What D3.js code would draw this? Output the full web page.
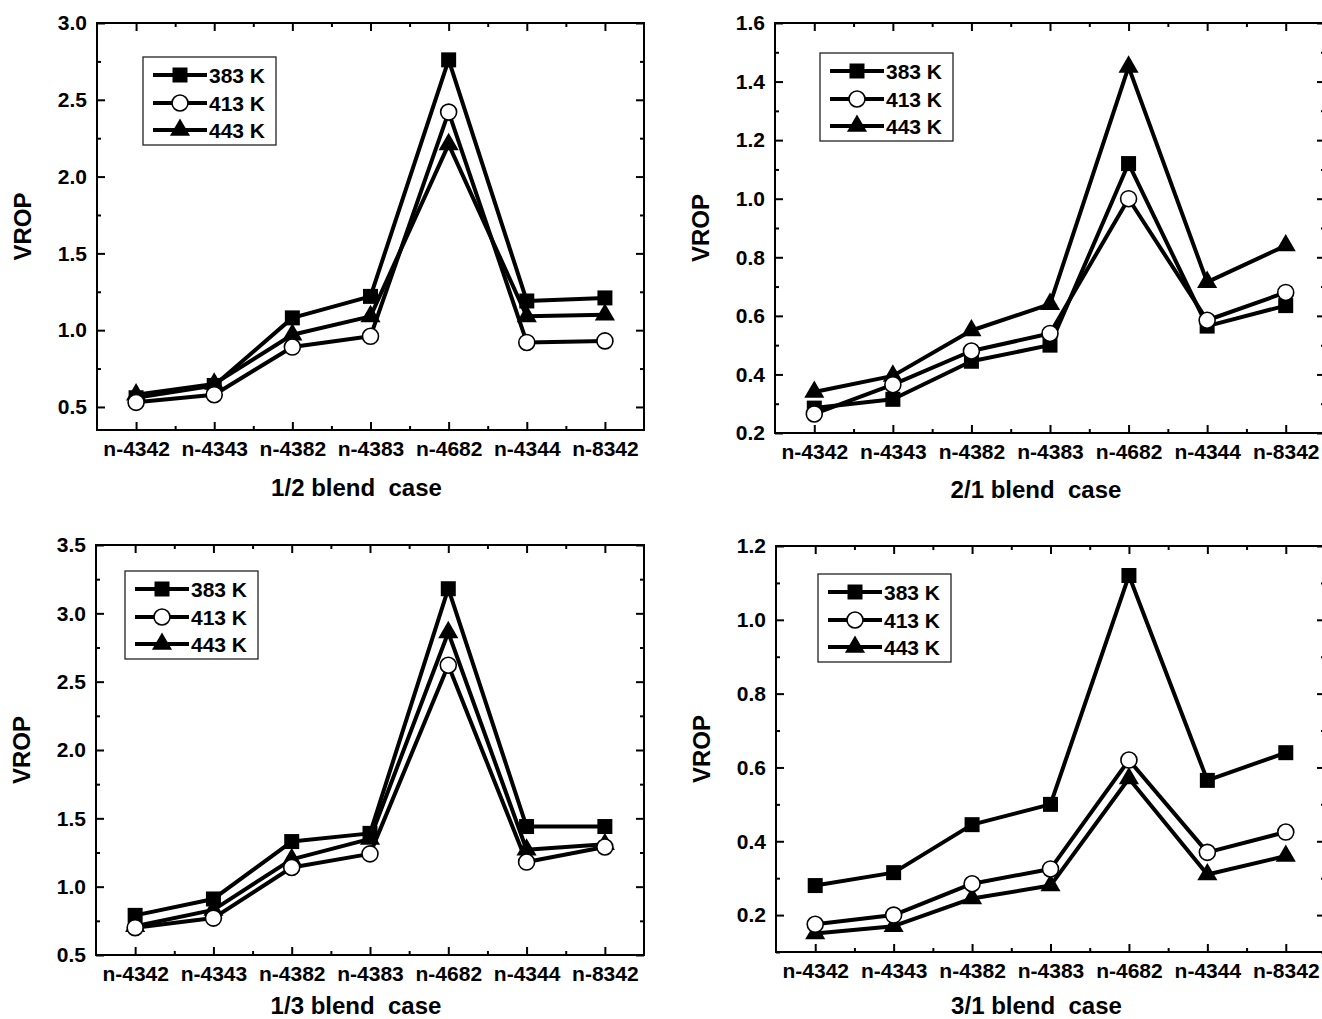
<!DOCTYPE html>
<html>
<head>
<meta charset="utf-8">
<script src="https://cdn.jsdelivr.net/npm/d3@7"></script>
<style>
  body { margin: 0; background: #fff; }
  text { font-family: "Liberation Sans", Arial, sans-serif; font-weight: bold; fill: #000; }
</style>
</head>
<body>
<script>
// categories and legend
const categories = ['n-4342', 'n-4343', 'n-4382', 'n-4383', 'n-4682', 'n-4344', 'n-8342'];
const temps = ['383 K', '413 K', '443 K'];

// 1/2 blend case
const blend12_383 = [0.56, 0.64, 1.08, 1.22, 2.76, 1.19, 1.21];
const blend12_413 = [0.53, 0.58, 0.89, 0.96, 2.42, 0.92, 0.93];
const blend12_443 = [0.58, 0.65, 0.97, 1.09, 2.21, 1.09, 1.10];

// 2/1 blend case
const blend21_383 = [0.285, 0.315, 0.445, 0.50, 1.12, 0.565, 0.635];
const blend21_413 = [0.265, 0.365, 0.48, 0.54, 1.0, 0.585, 0.68];
const blend21_443 = [0.34, 0.395, 0.55, 0.64, 1.45, 0.715, 0.84];

// 1/3 blend case
const blend13_383 = [0.79, 0.91, 1.33, 1.39, 3.18, 1.44, 1.44];
const blend13_413 = [0.70, 0.77, 1.14, 1.24, 2.62, 1.18, 1.29];
const blend13_443 = [0.71, 0.83, 1.20, 1.35, 2.86, 1.27, 1.31];

// 3/1 blend case
const blend31_383 = [0.28, 0.315, 0.445, 0.50, 1.12, 0.565, 0.64];
const blend31_413 = [0.175, 0.20, 0.285, 0.325, 0.62, 0.37, 0.425];
const blend31_443 = [0.15, 0.17, 0.245, 0.28, 0.57, 0.31, 0.36];

// y tick labels
const ticks12 = [0.5, 1.0, 1.5, 2.0, 2.5, 3.0];
const ticks21 = [0.2, 0.4, 0.6, 0.8, 1.0, 1.2, 1.4, 1.6];
const ticks13 = [0.5, 1.0, 1.5, 2.0, 2.5, 3.0, 3.5];
const ticks31 = [0.2, 0.4, 0.6, 0.8, 1.0, 1.2];

const panels = [
  { title: '1/2 blend  case', series: [blend12_383, blend12_413, blend12_443], yDomain: [0.35, 3.0], yTicks: ticks12, minorStep: 0.25,
    left: 97, right: 644, top: 23, bottom: 430, legX: 143, legY: 57, titleY: 496 },
  { title: '2/1 blend  case', series: [blend21_383, blend21_413, blend21_443], yDomain: [0.2, 1.6], yTicks: ticks21, minorStep: 0.1,
    left: 775, right: 1325, top: 23, bottom: 433, legX: 820, legY: 53, titleY: 498 },
  { title: '1/3 blend  case', series: [blend13_383, blend13_413, blend13_443], yDomain: [0.5, 3.5], yTicks: ticks13, minorStep: 0.25,
    left: 96, right: 644, top: 545, bottom: 955, legX: 125, legY: 571, titleY: 1014 },
  { title: '3/1 blend  case', series: [blend31_383, blend31_413, blend31_443], yDomain: [0.1, 1.2], yTicks: ticks31, minorStep: 0.1,
    left: 776, right: 1325, top: 546, bottom: 952, legX: 818, legY: 574, titleY: 1014 }
];

const svg = d3.select('body').append('svg').attr('width', 1322).attr('height', 1019);

const markerPath = (i) => {
  if (i === 0) return d3.symbol(d3.symbolSquare, 225)();
  if (i === 2) return d3.symbol(d3.symbolTriangle, 175)();
  return null;
};

const drawMarker = (sel, i) => {
  if (i === 1) {
    sel.append('circle').attr('r', 8).attr('fill', '#fff').attr('stroke', '#000').attr('stroke-width', 1.6);
  } else {
    sel.append('path').attr('d', markerPath(i)).attr('fill', '#000');
  }
};

panels.forEach((p) => {
  const g = svg.append('g');
  const x = d3.scaleLinear().domain([0.5, 7.5]).range([p.left, p.right]);
  const y = d3.scaleLinear().domain(p.yDomain).range([p.bottom, p.top]);

  const xMinor = d3.range(1.5, 7, 1);
  const yMinor = d3.range(Math.ceil(p.yDomain[0] / p.minorStep - 1e-6), Math.floor(p.yDomain[1] / p.minorStep + 1e-6) + 1)
    .map((k) => k * p.minorStep)
    .filter((v) => !p.yTicks.some((t) => Math.abs(t - v) < 1e-6));

  // major axes with labels
  g.append('g').attr('transform', `translate(0,${p.bottom})`)
    .call(d3.axisBottom(x).tickValues([1, 2, 3, 4, 5, 6, 7]).tickSize(-8).tickPadding(11)
      .tickFormat((d) => categories[d - 1]))
    .attr('class', 'ax');
  g.append('g').attr('transform', `translate(${p.left},0)`)
    .call(d3.axisLeft(y).tickValues(p.yTicks).tickSize(-8).tickPadding(10).tickFormat(d3.format('.1f')))
    .attr('class', 'ax');
  g.append('g').attr('transform', `translate(0,${p.top})`)
    .call(d3.axisTop(x).tickValues([1, 2, 3, 4, 5, 6, 7]).tickSize(-8).tickFormat(''))
    .attr('class', 'ax');
  g.append('g').attr('transform', `translate(${p.right},0)`)
    .call(d3.axisRight(y).tickValues(p.yTicks).tickSize(-8).tickFormat(''))
    .attr('class', 'ax');

  // minor ticks
  g.append('g').attr('transform', `translate(0,${p.bottom})`)
    .call(d3.axisBottom(x).tickValues(xMinor).tickSize(-4).tickFormat('')).attr('class', 'ax');
  g.append('g').attr('transform', `translate(0,${p.top})`)
    .call(d3.axisTop(x).tickValues(xMinor).tickSize(-4).tickFormat('')).attr('class', 'ax');
  g.append('g').attr('transform', `translate(${p.left},0)`)
    .call(d3.axisLeft(y).tickValues(yMinor).tickSize(-4).tickFormat('')).attr('class', 'ax');
  g.append('g').attr('transform', `translate(${p.right},0)`)
    .call(d3.axisRight(y).tickValues(yMinor).tickSize(-4).tickFormat('')).attr('class', 'ax');

  g.selectAll('.ax .domain').remove();
  g.selectAll('.ax line').attr('stroke', '#000').attr('stroke-width', 2);
  g.selectAll('.ax text').attr('font-size', 21).attr('font-family', '"Liberation Sans", Arial, sans-serif')
    .attr('font-weight', 'bold').attr('fill', '#000');

  // frame
  g.append('rect').attr('x', p.left).attr('y', p.top)
    .attr('width', p.right - p.left).attr('height', p.bottom - p.top)
    .attr('fill', 'none').attr('stroke', '#000').attr('stroke-width', 2);

  // series lines
  const line = d3.line().x((d, i) => x(i + 1)).y((d) => y(d));
  p.series.forEach((s) => {
    g.append('path').datum(s).attr('d', line)
      .attr('fill', 'none').attr('stroke', '#000').attr('stroke-width', 4).attr('stroke-linejoin', 'round');
  });

  // markers
  [0, 2, 1].forEach((si) => {
    g.append('g').selectAll('g').data(p.series[si]).join('g')
      .attr('transform', (d, i) => `translate(${x(i + 1)},${y(d)})`)
      .each(function () { drawMarker(d3.select(this), si); });
  });

  // legend
  const lg = g.append('g').attr('transform', `translate(${p.legX},${p.legY})`);
  lg.append('rect').attr('width', 133).attr('height', 88)
    .attr('fill', '#fff').attr('stroke', '#222').attr('stroke-width', 1.3);
  const rowY = [18, 46, 73];
  temps.forEach((t, i) => {
    const row = lg.append('g').attr('transform', `translate(0,${rowY[i]})`);
    row.append('line').attr('x1', 10).attr('x2', 64).attr('stroke', '#000').attr('stroke-width', 4);
    drawMarker(row.append('g').attr('transform', 'translate(37,0)'), i);
    row.append('text').attr('x', 66).attr('y', 8).attr('font-size', 21).text(t);
  });

  // axis titles
  g.append('text').attr('x', (p.left + p.right) / 2 - 14).attr('y', p.titleY)
    .attr('text-anchor', 'middle').attr('font-size', 24)
    .attr('xml:space', 'preserve').style('white-space', 'pre').text(p.title);
  g.append('text')
    .attr('transform', `translate(${p.left - 66},${(p.top + p.bottom) / 2}) rotate(-90)`)
    .attr('text-anchor', 'middle').attr('font-size', 24).text('VROP');
});
</script>
</body>
</html>
